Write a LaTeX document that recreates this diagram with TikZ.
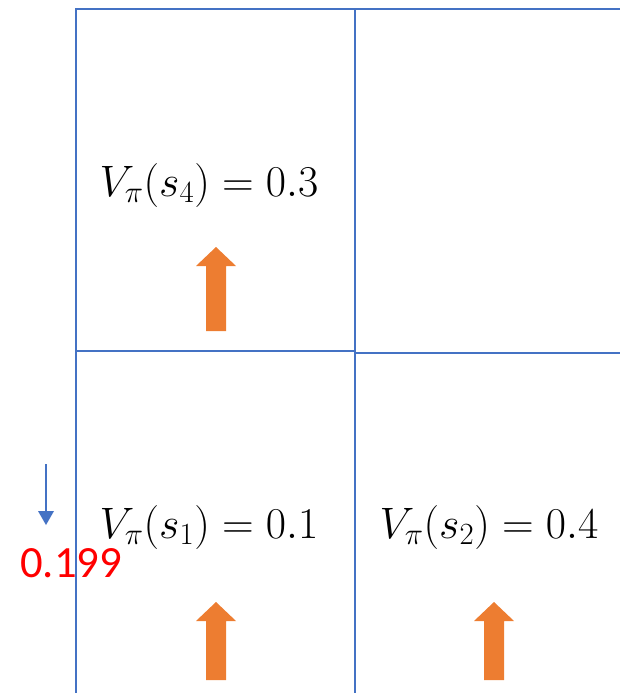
\RequirePackage{fix-cm}
\documentclass[tikz,border=0pt]{standalone}
\usepackage{fontspec}
\newfontfamily\calib{Carlito}
\definecolor{gridblue}{HTML}{4472C4}
\definecolor{arroworange}{HTML}{ED7D31}
\tikzset{
  gridline/.style={draw=gridblue, line width=1.9pt},
  valtext/.style={inner sep=0pt, font=\fontsize{33}{38}\selectfont},
  fatarrow/.style={fill=arroworange, draw=none},
}
\begin{document}
\begin{tikzpicture}[x=0.75pt, y=-0.75pt]
  \useasboundingbox (0,0) rectangle (620,693);
  % grid
  \coordinate (tl) at (76,9);
  \coordinate (tm) at (355,9);
  \coordinate (tr) at (620,9);
  \coordinate (bl) at (76,693);
  \coordinate (bm) at (355,693);
  \coordinate (ml) at (76,351);
  \coordinate (mm) at (355,351);
  \coordinate (mm2) at (355,353);
  \coordinate (mr) at (620,353);
  \draw[gridline] (tr) -- (tl) -- (bl);
  \draw[gridline] (tm) -- (bm);
  \draw[gridline] (ml) -- (mm);
  \draw[gridline] (mm2) -- (mr);
  % values
  \node[valtext] (v4) at (209,185) {$V_\pi(s_4)=0.3$};
  \node[valtext] (v1) at (209,527) {$V_\pi(s_1)=0.1$};
  \node[valtext] (v2) at (489,527) {$V_\pi(s_2)=0.4$};
  % orange arrows
  \foreach \cx/\ty/\by in {216/247/331, 216/602/680, 494/602/680}{
    \fill[fatarrow] (\cx-10,\by) -- (\cx+10,\by) -- (\cx+10,\ty+19) -- (\cx+20,\ty+19)
      -- (\cx,\ty) -- (\cx-20,\ty+19) -- (\cx-10,\ty+19) -- cycle;
  }
  % small blue arrow and red value
  \coordinate (sa) at (46,464);
  \coordinate (sb) at (46,525);
  \draw[gridblue, line width=0.9pt] (sa) -- (46,512);
  \fill[gridblue] (38,511) -- (54,511) -- (sb) -- cycle;
  \node[inner sep=0pt, anchor=base west, text=red, font=\calib\fontsize{33.5}{40}\selectfont] (val) at (20,577) {0.199};
\end{tikzpicture}
\end{document}
